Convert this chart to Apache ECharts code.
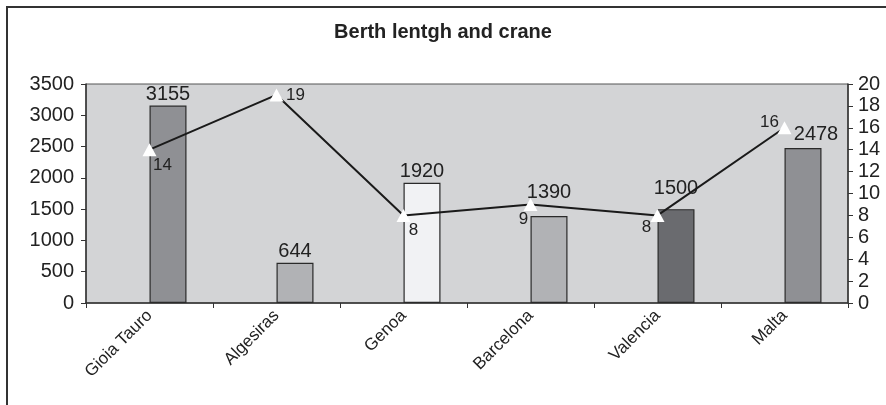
<!DOCTYPE html>
<html>
<head>
<meta charset="utf-8">
<script src="https://cdn.jsdelivr.net/npm/echarts@6/dist/echarts.min.js"></script>
<style>
  html, body { margin: 0; padding: 0; background: #fff; }
  #chart { width: 886px; height: 405px; }
</style>
</head>
<body>
<div id="chart"></div>
<script>
  // data
  var ports = ['Gioia Tauro', 'Algesiras', 'Genoa', 'Barcelona', 'Valencia', 'Malta'];
  var berthLength = [3155, 644, 1920, 1390, 1500, 2478];
  var cranes = [14, 19, 8, 9, 8, 16];
  var barColors = ['#8f9094', '#b1b2b5', '#f1f2f4', '#b1b2b5', '#6a6b6f', '#8f9094'];

  // label nudges (px) so the numbers sit where the original put them
  var barLabelOffsets = [[0, 0], [0, 0], [0, 0], [0, -13], [0, -10], [13, -2]];
  var craneLabelOffsets = [[13, 16], [19, 0], [10, 15], [-7, 15], [-11, 12], [-15, -5]];

  var chart = echarts.init(document.getElementById('chart'));

  var barData = berthLength.map(function (v, i) {
    return {
      value: v,
      itemStyle: { color: barColors[i] },
      label: { offset: barLabelOffsets[i] }
    };
  });
  var lineData = cranes.map(function (v, i) {
    return { value: v, label: { offset: craneLabelOffsets[i] } };
  });

  var plain = function (v) { return String(v); };

  chart.setOption({
    animation: false,
    backgroundColor: '#fff',
    textStyle: { fontFamily: 'Liberation Sans' },
    title: {
      text: 'Berth lentgh and crane',
      left: 'center',
      top: 17,
      textStyle: { fontSize: 20, fontWeight: 'bold', color: '#222', fontFamily: 'Liberation Sans' }
    },
    graphic: [{
      type: 'polyline',
      shape: { points: [[7, 410], [7, 7], [890, 7]] },
      style: { stroke: '#333', lineWidth: 2, fill: null }
    }],
    grid: {
      left: 86, right: 38, top: 84, bottom: 102,
      show: true, backgroundColor: '#d3d4d6', borderColor: '#555', borderWidth: 1
    },
    xAxis: {
      type: 'category',
      data: ports,
      axisLine: { lineStyle: { color: '#333', width: 1.5 } },
      axisTick: { show: true, length: 5, lineStyle: { color: '#333' } },
      axisLabel: { rotate: 45, fontSize: 17, margin: 10, color: '#222', fontFamily: 'Liberation Sans' }
    },
    yAxis: [{
      type: 'value',
      min: 0, max: 3500, interval: 500,
      splitLine: { show: false },
      axisLine: { show: true, lineStyle: { color: '#333', width: 1.5 } },
      axisTick: { show: true, length: 5, lineStyle: { color: '#333' } },
      axisLabel: { margin: 12, formatter: plain, color: '#222', fontSize: 20, fontFamily: 'Liberation Sans' }
    }, {
      type: 'value',
      min: 0, max: 20, interval: 2,
      position: 'right',
      splitLine: { show: false },
      axisLine: { show: true, lineStyle: { color: '#333', width: 1.5 } },
      axisTick: { show: true, length: 5, lineStyle: { color: '#333' } },
      axisLabel: { margin: 10, formatter: plain, color: '#222', fontSize: 20, fontFamily: 'Liberation Sans' }
    }],
    series: [{
      // empty slot so the bars sit right of the category centre, as in the original
      type: 'bar',
      data: ports.map(function () { return null; }),
      barWidth: 37,
      barGap: '0%',
      silent: true
    }, {
      name: 'Berth length',
      type: 'bar',
      data: barData,
      barWidth: 37,
      barGap: '0%',
      itemStyle: { borderColor: '#2a2a2a', borderWidth: 1.2 },
      label: {
        show: true, position: 'top', distance: 1,
        color: '#222', fontSize: 20, fontFamily: 'Liberation Sans'
      }
    }, {
      name: 'Cranes',
      type: 'line',
      yAxisIndex: 1,
      data: lineData,
      symbol: 'triangle',
      symbolSize: [14, 13],
      lineStyle: { color: '#1a1a1a', width: 2 },
      itemStyle: { color: '#fff', borderWidth: 0 },
      z: 5,
      label: {
        show: true, position: 'inside',
        color: '#222', fontSize: 17, fontFamily: 'Liberation Sans'
      }
    }]
  });
</script>
</body>
</html>
